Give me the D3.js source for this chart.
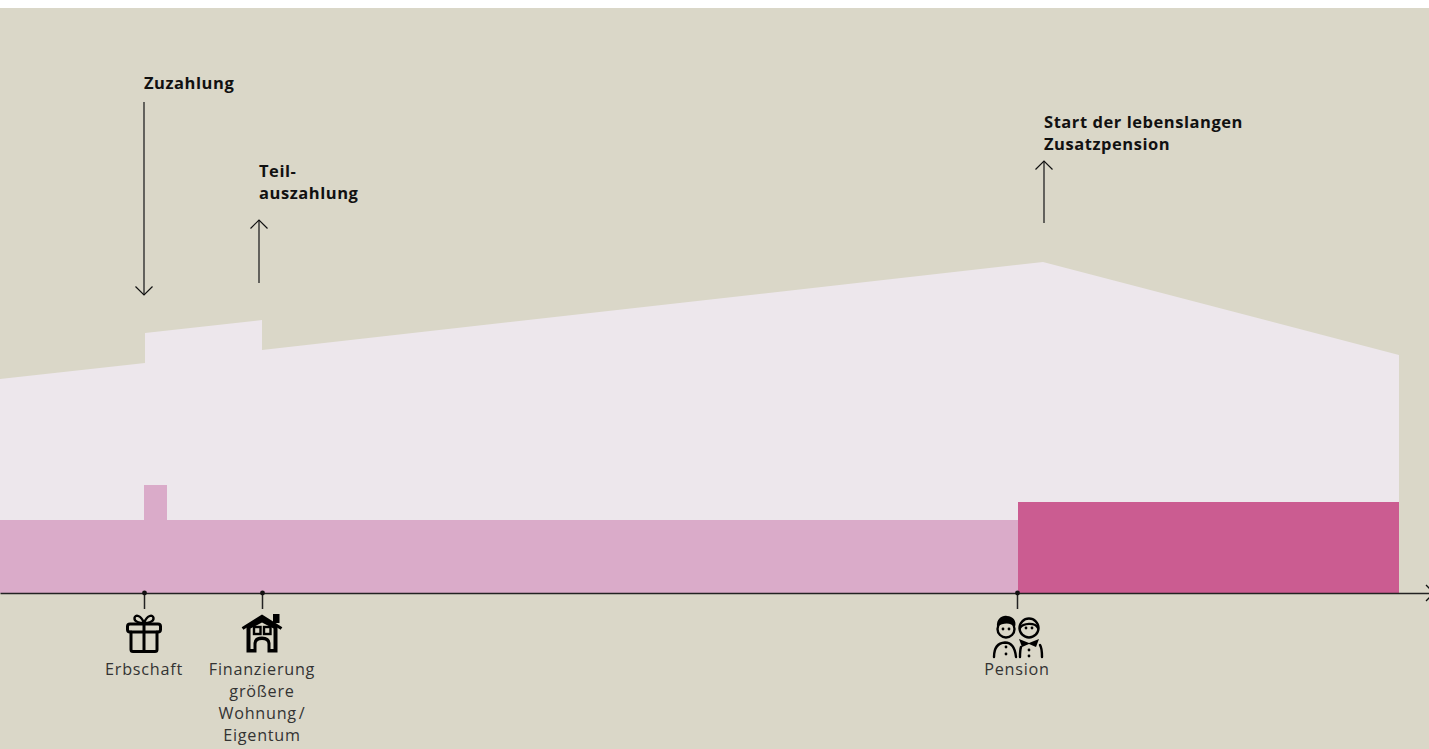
<!DOCTYPE html>
<html>
<head>
<meta charset="utf-8">
<script src="https://d3js.org/d3.v7.min.js"></script>
<style>
  html, body { margin: 0; background: #fff; overflow: hidden; }
  text { font-family: "Open Sans", sans-serif; fill: #1a1a1a; }
  .head { font-weight: 700; font-size: 16.5px; fill: #111; letter-spacing: 0.55px; }
  .label { font-size: 16.2px; text-anchor: middle; fill: #333; letter-spacing: 0.75px; word-spacing: -3px; }
</style>
</head>
<body>
<div id="chart"></div>
<script>
// all values, x and y are in "chart units" above the axis
const capitalX = [0, 145, 145, 262, 262, 1043, 1399, 1399, 0];
const capitalY = [214, 230, 260, 273, 243, 331, 238, 0, 0];
const baseX = [0, 144, 144, 167, 167, 1018, 1018, 0];
const baseY = [73, 73, 108, 108, 73, 73, 0, 0];
const pensionX = [1018, 1399];
const pensionY = [91, 91];

const eventX = [144, 262, 1017];
const eventIcons = ["gift", "house", "people"];
const eventLabels = [["Erbschaft"], ["Finanzierung", "größere", "Wohnung /", "Eigentum"], ["Pension"]];

const arrowX = [144, 259, 1044];
const arrowFrom = [491, 310, 370];
const arrowTo = [298, 373, 432];
const arrowHeads = [["Zuzahlung"], ["Teil-", "auszahlung"], ["Start der lebenslangen", "Zusatzpension"]];

const width = 1429, height = 749, axisY = 593, topY = 8;

const svg = d3.select("#chart").append("svg")
    .attr("width", width)
    .attr("height", height)
    .style("display", "block");

svg.append("rect")
    .attr("y", topY)
    .attr("width", width)
    .attr("height", height - topY)
    .attr("fill", "#dad7c8");

const x = d3.scaleLinear().domain([0, width]).range([0, width]);
const y = d3.scaleLinear().domain([0, axisY - topY]).range([axisY, topY]);

const line = d3.line().x(d => x(d[0])).y(d => y(d[1]));

// areas
svg.append("path")
    .attr("d", line(d3.zip(capitalX, capitalY)) + "Z")
    .attr("fill", "#ede7ec");

svg.append("path")
    .attr("d", line(d3.zip(baseX, baseY)) + "Z")
    .attr("fill", "#daabc9");

svg.append("rect")
    .attr("x", x(pensionX[0]))
    .attr("y", y(pensionY[0]))
    .attr("width", x(pensionX[1]) - x(pensionX[0]))
    .attr("height", y(0) - y(pensionY[0]))
    .attr("fill", "#cb5c91");

// axis with the event ticks hanging off it
const axis = svg.append("g")
    .attr("transform", `translate(0, ${axisY})`)
    .call(d3.axisBottom(x).tickValues(eventX).tickSize(16).tickSizeOuter(0).tickFormat(""));
axis.selectAll("path, line").attr("stroke", "#222").attr("stroke-width", 1.5);
axis.selectAll(".tick").append("circle").attr("r", 2.4).attr("fill", "#111");

// arrow at the end of the axis, runs off the page
svg.append("path")
    .attr("d", `M${width - 3},${axisY - 8}L${width + 5},${axisY}L${width - 3},${axisY + 8}`)
    .attr("fill", "none")
    .attr("stroke", "#111")
    .attr("stroke-width", 1.3);

// up and down arrows with their headings
arrowX.forEach((ax, i) => {
    const dir = arrowTo[i] > arrowFrom[i] ? 1 : -1;
    const g = svg.append("g");
    g.append("line")
        .attr("x1", x(ax)).attr("x2", x(ax))
        .attr("y1", y(arrowFrom[i])).attr("y2", y(arrowTo[i]))
        .attr("stroke", "#222").attr("stroke-width", 1.3);
    g.append("path")
        .attr("d", `M${x(ax) - 8.5},${y(arrowTo[i]) + dir * 8.5}L${x(ax)},${y(arrowTo[i])}L${x(ax) + 8.5},${y(arrowTo[i]) + dir * 8.5}`)
        .attr("fill", "none").attr("stroke", "#111").attr("stroke-width", 1.2);
});

const headPos = [[144, 89], [259, 177], [1044, 128]];
arrowHeads.forEach((lines, i) => {
    const t = svg.append("text").attr("class", "head");
    lines.forEach((s, j) => {
        t.append("tspan").attr("x", headPos[i][0]).attr("y", headPos[i][1] + j * 21.7).text(s);
    });
});

// labels under the icons
eventLabels.forEach((lines, i) => {
    const t = svg.append("text").attr("class", "label");
    lines.forEach((s, j) => {
        t.append("tspan").attr("x", x(eventX[i])).attr("y", 675 + j * 22).text(s);
    });
});

// icons, drawn relative to the tick x and the top of the icon (y=0 -> 615)
const icons = {
    gift(g) {
        const s = g.append("g").attr("fill", "none").attr("stroke", "#000").attr("stroke-width", 3).attr("stroke-linejoin", "round").attr("stroke-linecap", "round");
        s.append("rect").attr("x", -16.5).attr("y", 9).attr("width", 33).attr("height", 8).attr("rx", 2.5);
        s.append("path").attr("d", "M-13,17V34.5Q-13,36.5 -11,36.5H11Q13,36.5 13,34.5V17");
        s.append("path").attr("d", "M0,9V36");
        s.append("path").attr("d", "M0,8C-3,0 -9,-1 -9.5,3C-10,7 -4,8 0,8C4,8 10,7 9.5,3C9,-1 3,0 0,8").attr("stroke-width", 2.4);
    },
    house(g) {
        g.append("rect").attr("x", 11).attr("y", -1).attr("width", 6.5).attr("height", 9).attr("fill", "#000");
        g.append("path")
            .attr("d", "M-15.5,11.5L0,2.5L15.5,11.5V37.5H5.5V29Q5.5,25 0,25Q-5.5,25 -5.5,29V37.5H-15.5Z")
            .attr("fill", "#000");
        g.append("path")
            .attr("d", "M-19.5,13.5L0,1.5L19.5,13.5").attr("fill", "none").attr("stroke", "#000").attr("stroke-width", 3.2);
        g.append("path")
            .attr("d", "M-11.5,13.5L0,7.5L11.5,13.5V34H8.5V28Q8,21.5 0,21.5Q-8,21.5 -8.5,28V34H-11.5Z")
            .attr("fill", "#dad7c8");
        g.append("rect").attr("x", -8).attr("y", 12).attr("width", 6.5).attr("height", 7).attr("fill", "none").attr("stroke", "#000").attr("stroke-width", 2.4);
        g.append("rect").attr("x", 2).attr("y", 12).attr("width", 6.5).attr("height", 7).attr("fill", "none").attr("stroke", "#000").attr("stroke-width", 2.4);
    },
    people(g) {
        const s = g.append("g").attr("fill", "none").attr("stroke", "#000").attr("stroke-width", 2.4).attr("stroke-linecap", "round");
        // left person
        s.append("circle").attr("cx", -11).attr("cy", 14).attr("r", 8.5);
        g.append("path").attr("d", "M-20,12C-21,3 -14,0 -10,1C-4,1 0,6 -2,12C-6,8 -13,7 -20,12Z").attr("fill", "#000");
        s.append("path").attr("d", "M-23,42C-23,33 -19,28 -12,27.5C-6,27.5 -2,32 -1,42");
        // right person
        s.append("circle").attr("cx", 12).attr("cy", 13).attr("r", 9.5);
        s.append("path").attr("d", "M3,13C6,8 18,7 21,13");
        g.append("path").attr("d", "M2,24L12,28L22,24L19,32L12,29L5,32Z").attr("fill", "#000");
        s.append("path").attr("d", "M4,32C3,35 3,38 3,42M23,30C25,33 25,38 25,42");
        // eyes and buttons
        [[-14, 14], [-8, 14], [9, 13], [15, 13], [-11, 32], [-11, 39], [12, 35], [12, 41]].forEach(p => {
            g.append("circle").attr("cx", p[0]).attr("cy", p[1]).attr("r", 1.4).attr("fill", "#000");
        });
    }
};

eventX.forEach((ex, i) => {
    const g = svg.append("g").attr("transform", `translate(${x(ex)}, 615)`);
    icons[eventIcons[i]](g);
});
</script>
</body>
</html>
